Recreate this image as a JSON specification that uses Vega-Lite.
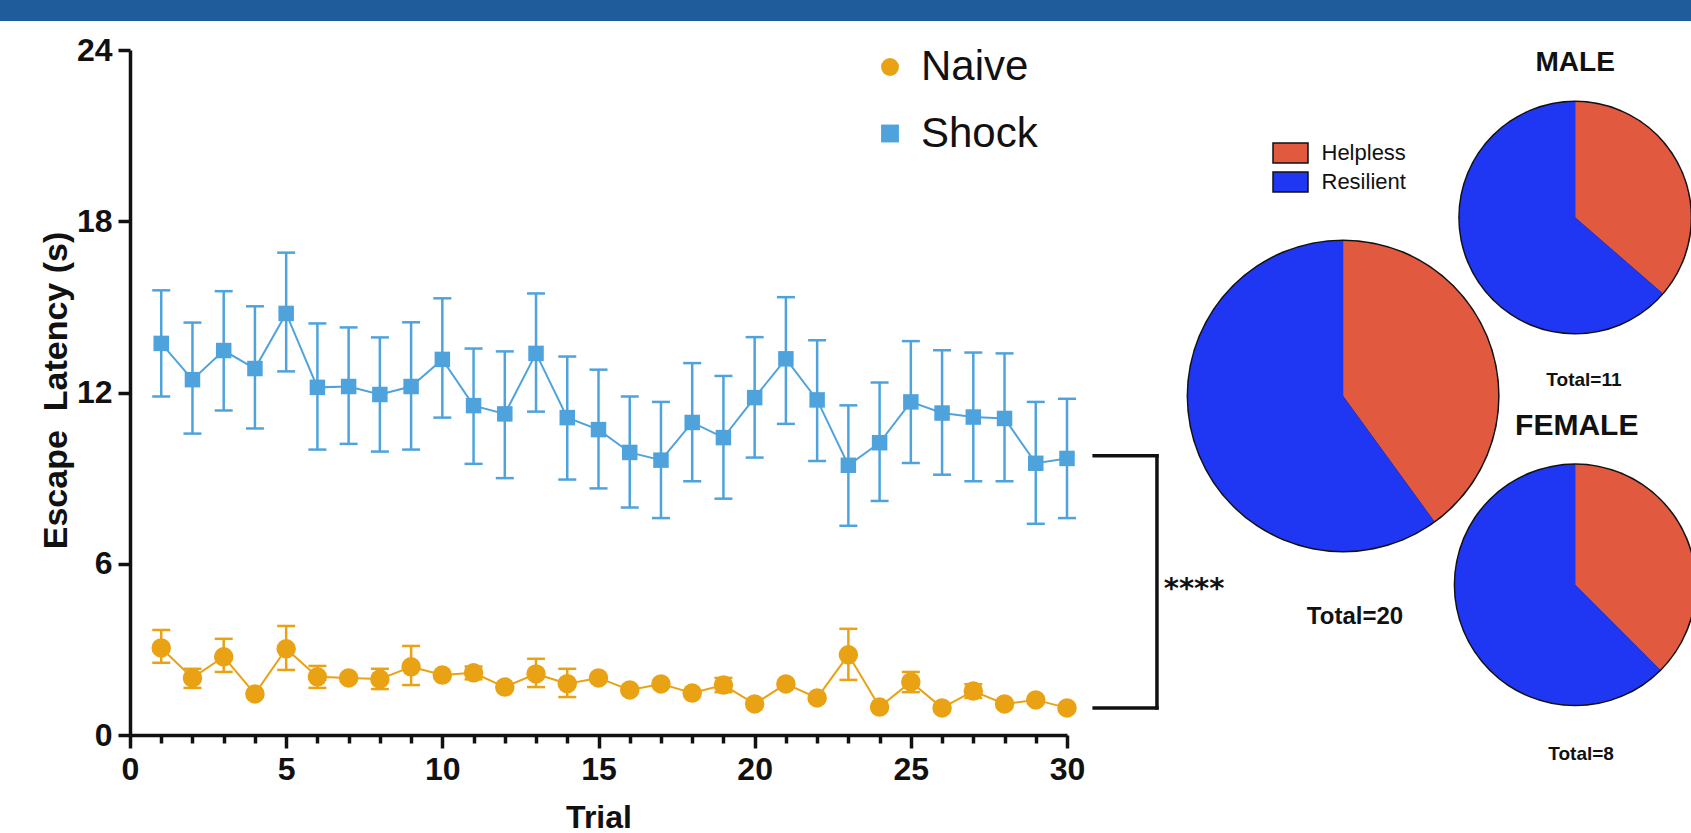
{
"$schema": "https://vega.github.io/schema/vega-lite/v6.json",
"width": 937, "height": 685,
"autosize": {"type": "none"},
"padding": {"left": 130, "top": 50, "right": 624, "bottom": 98},
"background": "#ffffff",
"config": {"view": {"stroke": null}, "font": "Liberation Sans"},
"resolve": {"axis": {"x": "independent", "y": "independent"}, "legend": {"color": "independent", "shape": "independent"}},
"datasets": {
"series": [
{"group":"Naive","trial":1,"mean":3.05,"lo":2.53,"hi":3.68},
{"group":"Naive","trial":2,"mean":2.0,"lo":1.65,"hi":2.32},
{"group":"Naive","trial":3,"mean":2.74,"lo":2.21,"hi":3.37},
{"group":"Naive","trial":4,"mean":1.44,"lo":1.44,"hi":1.44},
{"group":"Naive","trial":5,"mean":3.02,"lo":2.28,"hi":3.82},
{"group":"Naive","trial":6,"mean":2.04,"lo":1.65,"hi":2.42},
{"group":"Naive","trial":7,"mean":2.0,"lo":2.0,"hi":2.0},
{"group":"Naive","trial":8,"mean":1.96,"lo":1.61,"hi":2.32},
{"group":"Naive","trial":9,"mean":2.39,"lo":1.75,"hi":3.12},
{"group":"Naive","trial":10,"mean":2.1,"lo":2.1,"hi":2.1},
{"group":"Naive","trial":11,"mean":2.18,"lo":1.95,"hi":2.4},
{"group":"Naive","trial":12,"mean":1.68,"lo":1.68,"hi":1.68},
{"group":"Naive","trial":13,"mean":2.14,"lo":1.68,"hi":2.67},
{"group":"Naive","trial":14,"mean":1.8,"lo":1.33,"hi":2.32},
{"group":"Naive","trial":15,"mean":2.0,"lo":2.0,"hi":2.0},
{"group":"Naive","trial":16,"mean":1.58,"lo":1.58,"hi":1.58},
{"group":"Naive","trial":17,"mean":1.79,"lo":1.79,"hi":1.79},
{"group":"Naive","trial":18,"mean":1.47,"lo":1.47,"hi":1.47},
{"group":"Naive","trial":19,"mean":1.75,"lo":1.5,"hi":2.0},
{"group":"Naive","trial":20,"mean":1.09,"lo":1.09,"hi":1.09},
{"group":"Naive","trial":21,"mean":1.79,"lo":1.79,"hi":1.79},
{"group":"Naive","trial":22,"mean":1.3,"lo":1.3,"hi":1.3},
{"group":"Naive","trial":23,"mean":2.81,"lo":1.93,"hi":3.72},
{"group":"Naive","trial":24,"mean":0.98,"lo":0.98,"hi":0.98},
{"group":"Naive","trial":25,"mean":1.86,"lo":1.5,"hi":2.21},
{"group":"Naive","trial":26,"mean":0.95,"lo":0.95,"hi":0.95},
{"group":"Naive","trial":27,"mean":1.54,"lo":1.3,"hi":1.78},
{"group":"Naive","trial":28,"mean":1.09,"lo":1.09,"hi":1.09},
{"group":"Naive","trial":29,"mean":1.23,"lo":1.23,"hi":1.23},
{"group":"Naive","trial":30,"mean":0.95,"lo":0.95,"hi":0.95},
{"group":"Shock","trial":1,"mean":13.72,"lo":11.86,"hi":15.58},
{"group":"Shock","trial":2,"mean":12.45,"lo":10.56,"hi":14.45},
{"group":"Shock","trial":3,"mean":13.47,"lo":11.37,"hi":15.55},
{"group":"Shock","trial":4,"mean":12.84,"lo":10.74,"hi":15.02},
{"group":"Shock","trial":5,"mean":14.77,"lo":12.74,"hi":16.9},
{"group":"Shock","trial":6,"mean":12.18,"lo":10.0,"hi":14.42},
{"group":"Shock","trial":7,"mean":12.21,"lo":10.2,"hi":14.28},
{"group":"Shock","trial":8,"mean":11.93,"lo":9.93,"hi":13.93},
{"group":"Shock","trial":9,"mean":12.21,"lo":10.0,"hi":14.46},
{"group":"Shock","trial":10,"mean":13.16,"lo":11.12,"hi":15.3},
{"group":"Shock","trial":11,"mean":11.54,"lo":9.5,"hi":13.54},
{"group":"Shock","trial":12,"mean":11.25,"lo":9.0,"hi":13.44},
{"group":"Shock","trial":13,"mean":13.37,"lo":11.33,"hi":15.47},
{"group":"Shock","trial":14,"mean":11.12,"lo":8.95,"hi":13.26},
{"group":"Shock","trial":15,"mean":10.7,"lo":8.64,"hi":12.8},
{"group":"Shock","trial":16,"mean":9.9,"lo":7.97,"hi":11.86},
{"group":"Shock","trial":17,"mean":9.63,"lo":7.6,"hi":11.67},
{"group":"Shock","trial":18,"mean":10.95,"lo":8.89,"hi":13.03},
{"group":"Shock","trial":19,"mean":10.42,"lo":8.28,"hi":12.58},
{"group":"Shock","trial":20,"mean":11.82,"lo":9.72,"hi":13.94},
{"group":"Shock","trial":21,"mean":13.18,"lo":10.9,"hi":15.34},
{"group":"Shock","trial":22,"mean":11.74,"lo":9.6,"hi":13.83},
{"group":"Shock","trial":23,"mean":9.45,"lo":7.33,"hi":11.55},
{"group":"Shock","trial":24,"mean":10.24,"lo":8.2,"hi":12.35},
{"group":"Shock","trial":25,"mean":11.67,"lo":9.53,"hi":13.8},
{"group":"Shock","trial":26,"mean":11.28,"lo":9.12,"hi":13.48},
{"group":"Shock","trial":27,"mean":11.14,"lo":8.89,"hi":13.4},
{"group":"Shock","trial":28,"mean":11.09,"lo":8.89,"hi":13.37},
{"group":"Shock","trial":29,"mean":9.52,"lo":7.4,"hi":11.67},
{"group":"Shock","trial":30,"mean":9.69,"lo":7.6,"hi":11.78}
],
"pies": [
{"pie":"All","outcome":"Helpless","n":8},
{"pie":"All","outcome":"Resilient","n":12},
{"pie":"Male","outcome":"Helpless","n":4},
{"pie":"Male","outcome":"Resilient","n":7},
{"pie":"Female","outcome":"Helpless","n":3},
{"pie":"Female","outcome":"Resilient","n":5}
],
"one": [{}]
},
"layer": [
{
"data": {"name": "series"},
"mark": {"type": "rule", "strokeWidth": 2.5},
"encoding": {
"x": {"field": "trial", "type": "quantitative",
"scale": {"domain": [0, 30], "nice": false, "zero": false},
"axis": {"orient": "bottom", "values": [0,1,2,3,4,5,6,7,8,9,10,11,12,13,14,15,16,17,18,19,20,21,22,23,24,25,26,27,28,29,30],
"labelExpr": "datum.value % 5 === 0 ? datum.label : ''",
"tickSize": {"condition": {"test": "datum.value % 5 === 0", "value": 13}, "value": 8},
"tickWidth": 3.5, "tickColor": "#111", "domainColor": "#111", "domainWidth": 3.5,
"labelFontSize": 32, "labelFontWeight": "bold", "labelColor": "#111", "labelPadding": 6,
"labelFlush": false, "labelOverlap": false, "labelBound": false, "grid": false,
"title": "Trial", "titleFontSize": 32, "titleFontWeight": "bold", "titleColor": "#111", "titlePadding": 17}},
"y": {"field": "lo", "type": "quantitative",
"scale": {"domain": [0, 24], "nice": false},
"axis": {"orient": "left", "values": [0, 6, 12, 18, 24], "tickSize": 12, "tickWidth": 3.5, "tickColor": "#111",
"domainColor": "#111", "domainWidth": 3.5, "labelFontSize": 32, "labelFontWeight": "bold",
"labelColor": "#111", "labelPadding": 6, "labelFlush": false, "grid": false,
"title": "Escape\u00a0 Latency (s)", "titleFontSize": 34, "titleFontWeight": "bold", "titleColor": "#111",
"titlePadding": 3, "titleY": 340}},
"y2": {"field": "hi"},
"color": {"field": "group", "type": "nominal",
"scale": {"domain": ["Naive", "Shock"], "range": ["#E9A213", "#4FA3DC"]}, "legend": null}
}
},
{
"data": {"name": "series"},
"mark": {"type": "tick", "orient": "horizontal", "size": 18, "thickness": 2.5, "opacity": 1},
"encoding": {
"x": {"field": "trial", "type": "quantitative", "axis": null},
"y": {"field": "lo", "type": "quantitative", "axis": null},
"color": {"field": "group", "type": "nominal", "legend": null}
}
},
{
"data": {"name": "series"},
"mark": {"type": "tick", "orient": "horizontal", "size": 18, "thickness": 2.5, "opacity": 1},
"encoding": {
"x": {"field": "trial", "type": "quantitative", "axis": null},
"y": {"field": "hi", "type": "quantitative", "axis": null},
"color": {"field": "group", "type": "nominal", "legend": null}
}
},
{
"data": {"name": "series"},
"mark": {"type": "line", "strokeWidth": 2},
"encoding": {
"x": {"field": "trial", "type": "quantitative", "axis": null},
"y": {"field": "mean", "type": "quantitative", "axis": null},
"color": {"field": "group", "type": "nominal", "legend": null}
}
},
{
"data": {"name": "series"},
"transform": [{"filter": "datum.group === 'Naive'"}],
"mark": {"type": "point", "filled": true, "opacity": 1, "size": 380},
"encoding": {
"x": {"field": "trial", "type": "quantitative", "axis": null},
"y": {"field": "mean", "type": "quantitative", "axis": null},
"color": {"field": "group", "type": "nominal",
"legend": {"orient": "none", "legendX": 739, "legendY": -4, "title": null, "padding": 0,
"labelFont": "Liberation Sans", "labelFontSize": 42, "labelColor": "#111",
"symbolSize": 320, "labelOffset": 10, "rowPadding": 24.5, "symbolStrokeWidth": 0}},
"shape": {"field": "group", "type": "nominal",
"scale": {"domain": ["Naive", "Shock"], "range": ["circle", "square"]},
"legend": {"orient": "none", "legendX": 739, "legendY": -4, "title": null, "padding": 0,
"labelFont": "Liberation Sans", "labelFontSize": 42, "labelColor": "#111",
"symbolSize": 320, "labelOffset": 10, "rowPadding": 24.5, "symbolStrokeWidth": 0}}
}
},
{
"data": {"name": "series"},
"transform": [{"filter": "datum.group === 'Shock'"}],
"mark": {"type": "point", "filled": true, "opacity": 1, "size": 240},
"encoding": {
"x": {"field": "trial", "type": "quantitative", "axis": null},
"y": {"field": "mean", "type": "quantitative", "axis": null},
"color": {"field": "group", "type": "nominal", "legend": null},
"shape": {"field": "group", "type": "nominal", "legend": null}
}
},
{
"data": {"name": "one"},
"mark": {"type": "rect", "color": "#1E5C9B"},
"encoding": {
"x": {"datum": -4.3, "type": "quantitative", "axis": null},
"x2": {"datum": 50.1},
"y": {"datum": 25.02, "type": "quantitative", "axis": null},
"y2": {"datum": 26.6}
}
},
{
"data": {"name": "one"},
"mark": {"type": "rule", "strokeWidth": 3.5, "color": "#111", "strokeCap": "square"},
"encoding": {
"x": {"datum": 30.87, "type": "quantitative", "axis": null},
"x2": {"datum": 32.88},
"y": {"datum": 9.78, "type": "quantitative", "axis": null}
}
},
{
"data": {"name": "one"},
"mark": {"type": "rule", "strokeWidth": 3.5, "color": "#111", "strokeCap": "square"},
"encoding": {
"x": {"datum": 30.87, "type": "quantitative", "axis": null},
"x2": {"datum": 32.88},
"y": {"datum": 0.95, "type": "quantitative", "axis": null}
}
},
{
"data": {"name": "one"},
"mark": {"type": "rule", "strokeWidth": 3.5, "color": "#111", "strokeCap": "square"},
"encoding": {
"x": {"datum": 32.88, "type": "quantitative", "axis": null},
"y": {"datum": 0.95, "type": "quantitative", "axis": null},
"y2": {"datum": 9.78}
}
},
{
"data": {"name": "one"},
"mark": {"type": "text", "font": "DejaVu Sans", "fontWeight": "bold", "fontSize": 29, "align": "center", "baseline": "alphabetic", "color": "#111"},
"encoding": {
"x": {"datum": 34.07, "type": "quantitative", "axis": null},
"y": {"datum": 4.8, "type": "quantitative", "axis": null},
"text": {"value": "****"}
}
},
{
"data": {"name": "one"},
"mark": {"type": "point", "shape": "circle", "filled": true, "opacity": 1, "color": "#111", "size": 98000},
"encoding": {
"x": {"datum": 38.84, "type": "quantitative", "axis": null},
"y": {"datum": 11.88, "type": "quantitative", "axis": null}
}
},
{
"data": {"name": "one"},
"mark": {"type": "point", "shape": "circle", "filled": true, "opacity": 1, "color": "#111", "size": 54750},
"encoding": {
"x": {"datum": 46.27, "type": "quantitative", "axis": null},
"y": {"datum": 18.13, "type": "quantitative", "axis": null}
}
},
{
"data": {"name": "one"},
"mark": {"type": "point", "shape": "circle", "filled": true, "opacity": 1, "color": "#111", "size": 59050},
"encoding": {
"x": {"datum": 46.27, "type": "quantitative", "axis": null},
"y": {"datum": 5.26, "type": "quantitative", "axis": null}
}
},
{
"data": {"name": "pies"},
"transform": [{"filter": "datum.pie === 'All'"}],
"mark": {"type": "arc", "radius": 155},
"encoding": {
"x": {"datum": 38.84, "type": "quantitative", "axis": null},
"y": {"datum": 11.88, "type": "quantitative", "axis": null},
"theta": {"field": "n", "type": "quantitative", "stack": "normalize"},
"order": {"field": "outcome", "sort": "ascending"},
"fill": {"field": "outcome", "type": "nominal",
"scale": {"domain": ["Helpless", "Resilient"], "range": ["#E15A40", "#1F36F2"]},
"legend": {"orient": "none", "legendX": 1149.5, "legendY": 92, "title": null, "padding": 0,
"symbolType": "M-1.75,-1L1.75,-1L1.75,1L-1.75,1Z", "symbolSize": 400,
"symbolStrokeColor": "#111", "symbolStrokeWidth": 1.5,
"labelFont": "Liberation Sans", "labelFontSize": 22, "labelColor": "#111",
"labelOffset": 20, "rowPadding": 3}}
}
},
{
"data": {"name": "pies"},
"transform": [{"filter": "datum.pie === 'Male'"}],
"mark": {"type": "arc", "radius": 115.5},
"encoding": {
"x": {"datum": 46.27, "type": "quantitative", "axis": null},
"y": {"datum": 18.13, "type": "quantitative", "axis": null},
"theta": {"field": "n", "type": "quantitative", "stack": "normalize"},
"order": {"field": "outcome", "sort": "ascending"},
"fill": {"field": "outcome", "type": "nominal", "legend": null}
}
},
{
"data": {"name": "pies"},
"transform": [{"filter": "datum.pie === 'Female'"}],
"mark": {"type": "arc", "radius": 120},
"encoding": {
"x": {"datum": 46.27, "type": "quantitative", "axis": null},
"y": {"datum": 5.26, "type": "quantitative", "axis": null},
"theta": {"field": "n", "type": "quantitative", "stack": "normalize"},
"order": {"field": "outcome", "sort": "ascending"},
"fill": {"field": "outcome", "type": "nominal", "legend": null}
}
},
{
"data": {"name": "one"},
"mark": {"type": "text", "fontWeight": "bold", "fontSize": 28, "align": "center", "baseline": "middle", "color": "#111"},
"encoding": {
"x": {"datum": 46.27, "type": "quantitative", "axis": null},
"y": {"datum": 23.55, "type": "quantitative", "axis": null},
"text": {"value": "MALE"}
}
},
{
"data": {"name": "one"},
"mark": {"type": "text", "fontWeight": "bold", "fontSize": 30, "align": "center", "baseline": "middle", "color": "#111"},
"encoding": {
"x": {"datum": 46.32, "type": "quantitative", "axis": null},
"y": {"datum": 10.84, "type": "quantitative", "axis": null},
"text": {"value": "FEMALE"}
}
},
{
"data": {"name": "one"},
"mark": {"type": "text", "fontWeight": "bold", "fontSize": 19, "align": "center", "baseline": "middle", "color": "#111"},
"encoding": {
"x": {"datum": 46.55, "type": "quantitative", "axis": null},
"y": {"datum": 12.44, "type": "quantitative", "axis": null},
"text": {"value": "Total=11"}
}
},
{
"data": {"name": "one"},
"mark": {"type": "text", "fontWeight": "bold", "fontSize": 24, "align": "center", "baseline": "middle", "color": "#111"},
"encoding": {
"x": {"datum": 39.22, "type": "quantitative", "axis": null},
"y": {"datum": 4.14, "type": "quantitative", "axis": null},
"text": {"value": "Total=20"}
}
},
{
"data": {"name": "one"},
"mark": {"type": "text", "fontWeight": "bold", "fontSize": 19, "align": "center", "baseline": "middle", "color": "#111"},
"encoding": {
"x": {"datum": 46.46, "type": "quantitative", "axis": null},
"y": {"datum": -0.67, "type": "quantitative", "axis": null},
"text": {"value": "Total=8"}
}
}
]
}
